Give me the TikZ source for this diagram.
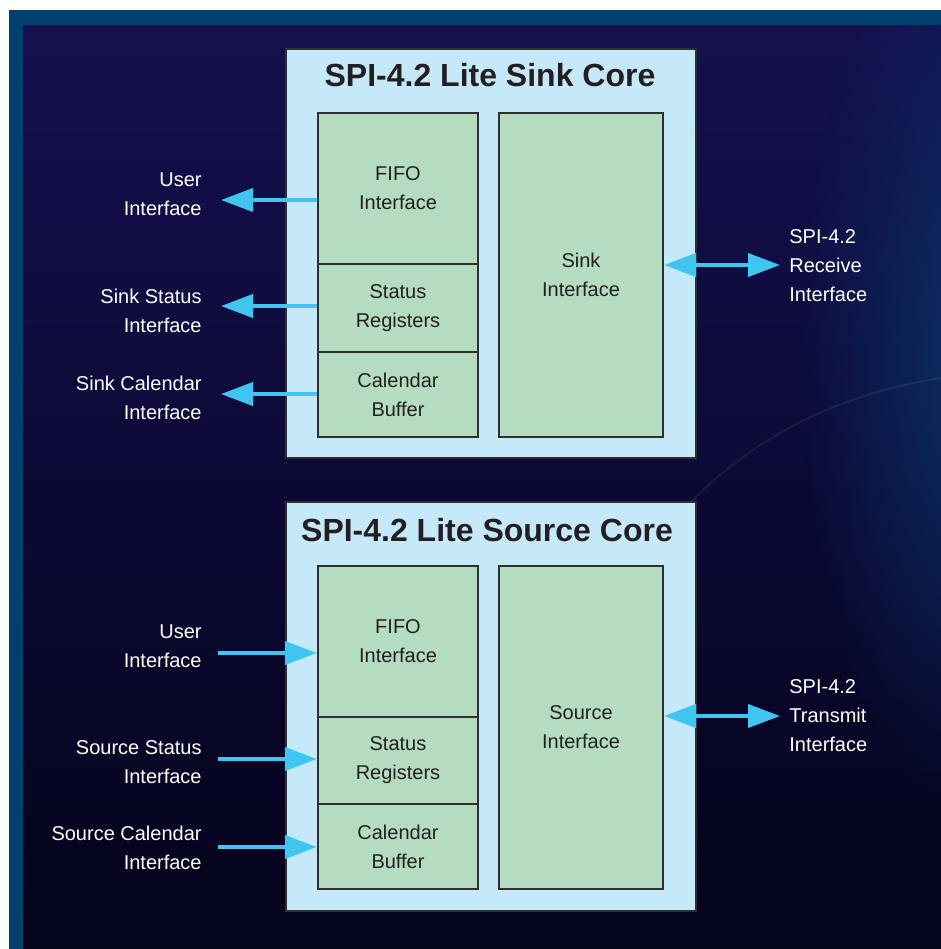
\documentclass[tikz,border=0pt]{standalone}
\usepackage{fontspec}
\setmainfont{Liberation Sans}
\usetikzlibrary{arrows.meta, positioning, backgrounds, calc, fadings}

\definecolor{framebg}{HTML}{00406F}
\definecolor{navytop}{HTML}{14104F}
\definecolor{navymid}{HTML}{0C0A44}
\definecolor{deepbg}{HTML}{03031A}
\definecolor{glowblue}{HTML}{0A3A70}
\definecolor{corebg}{HTML}{C6E9F9}
\definecolor{blockbg}{HTML}{B3DCC1}
\definecolor{flowblue}{HTML}{40C4F0}
\definecolor{edgegray}{HTML}{2F2F2F}
\definecolor{inktext}{HTML}{231F20}

\tikzfading[name=softglow, inner color=transparent!0, outer color=transparent!100]

\begin{document}
\begin{tikzpicture}[
    x=0.5pt, y=-0.5pt,
    core box/.style={draw=edgegray, line width=1.2pt, fill=corebg, inner sep=0pt},
    core title/.style={font=\fontsize{16}{19}\selectfont\bfseries, text=inktext},
    block/.style={
        draw=edgegray,
        line width=1.1pt,
        fill=blockbg,
        inner sep=0pt,
        align=center,
        text=inktext,
        font=\fontsize{10}{14.5}\selectfont
    },
    port label/.style={text=white, inner sep=0pt, font=\fontsize{10}{14.5}\selectfont},
    flow/.style={draw=flowblue, line width=2pt, -{Triangle[length=16pt, width=11.5pt]}},
    flow both/.style={draw=flowblue, line width=2pt,
        {Triangle[length=16pt, width=11.5pt]}-{Triangle[length=16pt, width=11.5pt]}}
]
\useasboundingbox (0,0) rectangle (941,949);

% Backdrop: white margin, teal frame, dark blue panel
\fill[white] (0,0) rectangle (941,949);
\fill[framebg] (9,10) rectangle (941,949);
\shade[top color=navytop, middle color=navymid, bottom color=deepbg] (23,25) rectangle (941,949);
\begin{scope}
    \clip (23,25) rectangle (941,949);
    \fill[glowblue, path fading=softglow, opacity=0.8]
        (980,360) ellipse [x radius=90pt, y radius=230pt];
\end{scope}
\draw[white, opacity=0.07, line width=1pt] (688,505) .. controls (760,430) and (850,392) .. (941,378);

% Sink core
\node[core box, minimum width=205pt, minimum height=204.5pt] (sinkcore) at (491,253.5) {};
\node[core title] (sinktitle) at (490,75) {SPI-4.2 Lite Sink Core};

\node[block, minimum width=80pt, minimum height=75.5pt] (sinkfifo) at (398,188.5) {FIFO\\Interface};
\node[block, minimum width=80pt, minimum height=44pt] (sinkstatus) at (398,308) {Status\\Registers};
\node[block, minimum width=80pt, minimum height=42.5pt] (sinkcal) at (398,394.5) {Calendar\\Buffer};
\node[block, minimum width=82pt, minimum height=162pt] (sinkif) at (581,275) {Sink\\Interface};

% Sink ports
\node[port label, align=right, anchor=east] (sinkuser) at (202,194.5) {User\\Interface};
\node[port label, align=right, anchor=east] (sinkstat) at (202,311) {Sink Status\\Interface};
\node[port label, align=right, anchor=east] (sinkcalport) at (202,398) {Sink Calendar\\Interface};
\node[port label, align=left, anchor=west] (rxport) at (789,265.5) {SPI-4.2\\Receive\\Interface};

\coordinate (sinkuserend) at (221,200);
\coordinate (sinkstatend) at (221,306);
\coordinate (sinkcalend) at (221,394);
\coordinate (rxend) at (780,265);

\draw[flow] (sinkfifo.west |- sinkuserend) -- (sinkuserend);
\draw[flow] (sinkstatus.west |- sinkstatend) -- (sinkstatend);
\draw[flow] (sinkcal.west |- sinkcalend) -- (sinkcalend);
\draw[flow both] (sinkif.east |- rxend) -- (rxend);

% Source core
\node[core box, minimum width=205pt, minimum height=204.5pt] (srccore) at (491,706.5) {};
\node[core title] (srctitle) at (487,530) {SPI-4.2 Lite Source Core};

\node[block, minimum width=80pt, minimum height=75.5pt] (srcfifo) at (398,641.5) {FIFO\\Interface};
\node[block, minimum width=80pt, minimum height=43.5pt] (srcstatus) at (398,760.5) {Status\\Registers};
\node[block, minimum width=80pt, minimum height=42.5pt] (srccal) at (398,846.5) {Calendar\\Buffer};
\node[block, minimum width=82pt, minimum height=161.5pt] (srcif) at (581,727.5) {Source\\Interface};

% Source ports
\node[port label, align=right, anchor=east] (srcuser) at (202,646) {User\\Interface};
\node[port label, align=right, anchor=east] (srcstat) at (202,762) {Source Status\\Interface};
\node[port label, align=right, anchor=east] (srccalport) at (202,848) {Source Calendar\\Interface};
\node[port label, align=left, anchor=west] (txport) at (789,716) {SPI-4.2\\Transmit\\Interface};

\coordinate (srcuserstart) at (218,653);
\coordinate (srcstatstart) at (218,759);
\coordinate (srccalstart) at (218,847);
\coordinate (txend) at (780,716);

\draw[flow] (srcuserstart) -- (srcfifo.west |- srcuserstart);
\draw[flow] (srcstatstart) -- (srcstatus.west |- srcstatstart);
\draw[flow] (srccalstart) -- (srccal.west |- srccalstart);
\draw[flow both] (srcif.east |- txend) -- (txend);

\end{tikzpicture}
\end{document}
